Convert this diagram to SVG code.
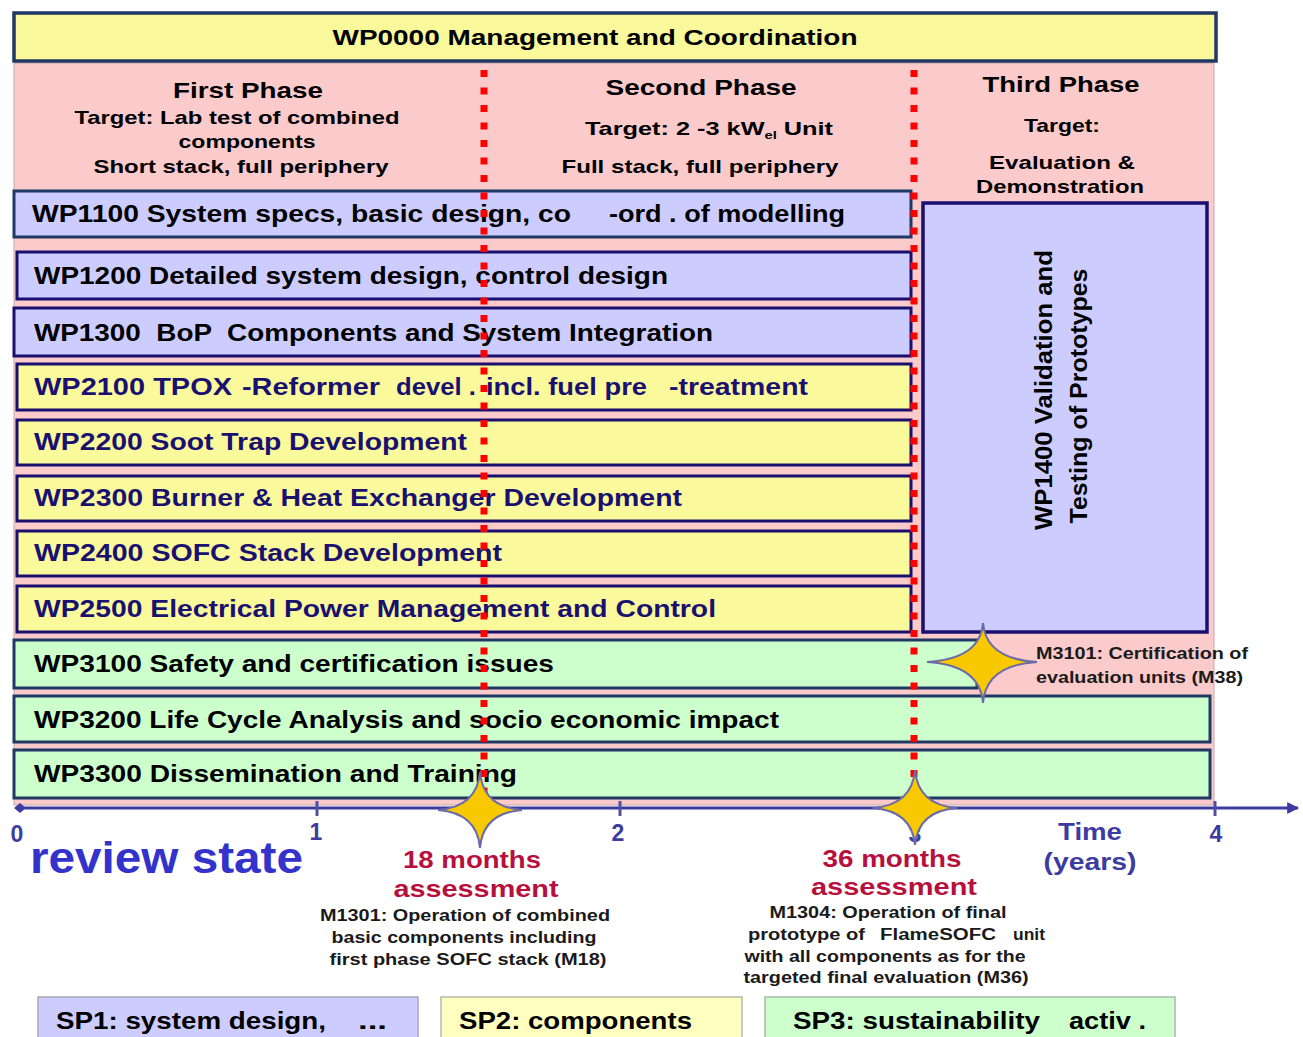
<svg xmlns="http://www.w3.org/2000/svg" width="1303" height="1037" viewBox="0 0 1303 1037">
<style>
text{font-family:"Liberation Sans",Arial,sans-serif;font-weight:bold}
.row{font-size:24px;fill:#000}
.row2{font-size:24px;fill:#1a1070}
.hd{font-size:22px;fill:#000}
.sm{font-size:19px;fill:#000}
.ms{font-size:16px;fill:#1a1a1a}
.red{font-size:24px;fill:#b8103c}
.ax{font-size:23px;fill:#3c3ca0}
.lg{font-size:23px;fill:#000}
.bx1{fill:#ccccff;stroke:#1f3864;stroke-width:3}
.bxb{fill:#ccccff;stroke:#1a0f6e;stroke-width:3}
.bxy{fill:#fafa9c;stroke:#1a0f6e;stroke-width:3}
.bxg{fill:#ccffcc;stroke:#1f3864;stroke-width:3}
.dot{stroke:#ff0000;stroke-width:7;stroke-dasharray:7 10.5;fill:none}
.star{fill:#f8c800;stroke:#6a6aa8;stroke-width:2}
.tick{stroke:#5050a0;stroke-width:3}
</style>
<defs>
<marker id="arr" viewBox="0 0 10 10" refX="9" refY="5" markerWidth="4" markerHeight="4" orient="auto" markerUnits="strokeWidth">
<path d="M0,0 L10,5 L0,10 z" fill="#3c3ca0"/>
</marker>
</defs>
<rect width="1303" height="1037" fill="#ffffff"/>

<g id="phases">
<rect x="14" y="63" width="1200" height="742" fill="#fbcaca" stroke="#c8a8a8" stroke-width="1"/>
<text class="hd" x="248" y="98" text-anchor="middle" textLength="150" lengthAdjust="spacingAndGlyphs">First Phase</text>
<text class="sm" x="237" y="124" text-anchor="middle" textLength="325" lengthAdjust="spacingAndGlyphs">Target: Lab test of combined</text>
<text class="sm" x="247" y="148" text-anchor="middle" textLength="137" lengthAdjust="spacingAndGlyphs">components</text>
<text class="sm" x="241" y="173" text-anchor="middle" textLength="295" lengthAdjust="spacingAndGlyphs">Short stack, full periphery</text>
<text class="hd" x="701" y="95" text-anchor="middle" textLength="191" lengthAdjust="spacingAndGlyphs">Second Phase</text>
<text class="sm" x="585" y="135" textLength="248" lengthAdjust="spacingAndGlyphs">Target: 2 -3 kW<tspan font-size="11" dy="4">el</tspan><tspan dy="-4"> Unit</tspan></text>
<text class="sm" x="700" y="173" text-anchor="middle" textLength="277" lengthAdjust="spacingAndGlyphs">Full stack, full periphery</text>
<text class="hd" x="1061" y="92" text-anchor="middle" textLength="157" lengthAdjust="spacingAndGlyphs">Third Phase</text>
<text class="sm" x="1062" y="132" text-anchor="middle" textLength="76" lengthAdjust="spacingAndGlyphs">Target:</text>
<text class="sm" x="1062" y="169" text-anchor="middle" textLength="146" lengthAdjust="spacingAndGlyphs">Evaluation &amp;</text>
<text class="sm" x="1060" y="193" text-anchor="middle" textLength="168" lengthAdjust="spacingAndGlyphs">Demonstration</text>
</g>

<g id="WP0000">
<rect x="14" y="13" width="1202" height="48" fill="#f9f99b" stroke="#1f3864" stroke-width="3.5"/>
<text class="hd" x="595" y="45" text-anchor="middle" textLength="525" lengthAdjust="spacingAndGlyphs">WP0000 Management and Coordination</text>
</g>

<g id="WP1100">
<rect class="bx1" x="14" y="191" width="897" height="46"/>
<text class="row" x="32" y="222" textLength="539" lengthAdjust="spacingAndGlyphs">WP1100 System specs, basic design, co</text>
<text class="row" x="609" y="222" textLength="236" lengthAdjust="spacingAndGlyphs">-ord . of modelling</text>
</g>
<g id="WP1200">
<rect class="bxb" x="17" y="252" width="894" height="47"/>
<text class="row" x="34" y="284" textLength="634" lengthAdjust="spacingAndGlyphs">WP1200 Detailed system design, control design</text>
</g>
<g id="WP1300">
<rect class="bxb" x="14" y="308" width="897" height="48"/>
<text class="row" x="34" y="341" textLength="679" lengthAdjust="spacingAndGlyphs" xml:space="preserve">WP1300  BoP  Components and System Integration</text>
</g>
<g id="WP2100">
<rect class="bxy" x="17" y="364" width="894" height="46"/>
<text class="row2" x="34" y="395" textLength="198" lengthAdjust="spacingAndGlyphs">WP2100 TPOX</text>
<text class="row2" x="242" y="395" textLength="138" lengthAdjust="spacingAndGlyphs">-Reformer</text>
<text class="row2" x="396" y="395" textLength="80" lengthAdjust="spacingAndGlyphs">devel .</text>
<text class="row2" x="486" y="395" textLength="161" lengthAdjust="spacingAndGlyphs">incl. fuel pre</text>
<text class="row2" x="669" y="395" textLength="139" lengthAdjust="spacingAndGlyphs">-treatment</text>
</g>
<g id="WP2200">
<rect class="bxy" x="17" y="420" width="894" height="45"/>
<text class="row2" x="34" y="450" textLength="433" lengthAdjust="spacingAndGlyphs">WP2200 Soot Trap Development</text>
</g>
<g id="WP2300">
<rect class="bxy" x="17" y="476" width="894" height="45"/>
<text class="row2" x="34" y="506" textLength="648" lengthAdjust="spacingAndGlyphs">WP2300 Burner &amp; Heat Exchanger Development</text>
</g>
<g id="WP2400">
<rect class="bxy" x="17" y="531" width="894" height="45"/>
<text class="row2" x="34" y="561" textLength="468" lengthAdjust="spacingAndGlyphs">WP2400 SOFC Stack Development</text>
</g>
<g id="WP2500">
<rect class="bxy" x="17" y="586" width="894" height="46"/>
<text class="row2" x="34" y="617" textLength="682" lengthAdjust="spacingAndGlyphs">WP2500 Electrical Power Management and Control</text>
</g>
<g id="WP3100">
<rect class="bxg" x="14" y="640" width="963" height="48"/>
<text class="row" x="34" y="672" textLength="520" lengthAdjust="spacingAndGlyphs">WP3100 Safety and certification issues</text>
</g>
<g id="WP3200">
<rect class="bxg" x="14" y="696" width="1196" height="46"/>
<text class="row" x="34" y="728" textLength="745" lengthAdjust="spacingAndGlyphs">WP3200 Life Cycle Analysis and socio economic impact</text>
</g>
<g id="WP3300">
<rect class="bxg" x="14" y="750" width="1196" height="48"/>
<text class="row" x="34" y="782" textLength="483" lengthAdjust="spacingAndGlyphs">WP3300 Dissemination and Training</text>
</g>
<g id="WP1400">
<rect x="923" y="203" width="284" height="429" fill="#ccccff" stroke="#1a0f6e" stroke-width="3.5"/>
<text class="row" transform="translate(1052,390) rotate(-90)" text-anchor="middle" textLength="280" lengthAdjust="spacingAndGlyphs">WP1400 Validation and</text>
<text class="row" transform="translate(1087,396) rotate(-90)" text-anchor="middle" textLength="255" lengthAdjust="spacingAndGlyphs">Testing of Prototypes</text>
</g>

<g id="connectors">
<line class="dot" x1="484" y1="70" x2="484" y2="800"/>
<line class="dot" x1="914" y1="70" x2="914" y2="800"/>
<line x1="20" y1="808" x2="1298" y2="808" stroke="#3c3ca0" stroke-width="3" marker-end="url(#arr)"/>
<path d="M14,808 L20,803 L26,808 L20,813 Z" fill="#3c3ca0"/>
<line class="tick" x1="317" y1="801" x2="317" y2="816"/>
<line class="tick" x1="620" y1="801" x2="620" y2="816"/>
<line class="tick" x1="915" y1="801" x2="915" y2="816"/>
<line class="tick" x1="1215" y1="801" x2="1215" y2="816"/>
</g>

<g id="axis-labels">
<text class="ax" x="17" y="842" text-anchor="middle">0</text>
<text class="ax" x="316" y="840" text-anchor="middle">1</text>
<text class="ax" x="618" y="841" text-anchor="middle">2</text>
<text class="ax" x="915" y="842" text-anchor="middle">3</text>
<text class="ax" x="1216" y="842" text-anchor="middle">4</text>
<text class="ax" x="1090" y="840" text-anchor="middle" textLength="64" lengthAdjust="spacingAndGlyphs">Time</text>
<text class="ax" x="1090" y="870" text-anchor="middle" textLength="93" lengthAdjust="spacingAndGlyphs">(years)</text>
<text x="30" y="873" font-size="44" fill="#3333cc" textLength="273" lengthAdjust="spacingAndGlyphs">review state</text>
</g>

<g id="M18">
<path class="star" d="M480,772 Q483,807 522,810 Q483,813 480,848 Q477,813 438,810 Q477,807 480,772 Z"/>
<text class="red" x="472" y="868" text-anchor="middle" textLength="138" lengthAdjust="spacingAndGlyphs">18 months</text>
<text class="red" x="476" y="897" text-anchor="middle" textLength="165" lengthAdjust="spacingAndGlyphs">assessment</text>
<text class="ms" x="465" y="921" text-anchor="middle" textLength="290" lengthAdjust="spacingAndGlyphs">M1301: Operation of combined</text>
<text class="ms" x="464" y="943" text-anchor="middle" textLength="265" lengthAdjust="spacingAndGlyphs">basic components including</text>
<text class="ms" x="468" y="965" text-anchor="middle" textLength="277" lengthAdjust="spacingAndGlyphs">first phase SOFC stack (M18)</text>
</g>

<g id="M36">
<path class="star" d="M915,770 Q918,805 957,808 Q918,811 915,845 Q912,811 873,808 Q912,805 915,770 Z"/>
<text class="red" x="892" y="867" text-anchor="middle" textLength="139" lengthAdjust="spacingAndGlyphs">36 months</text>
<text class="red" x="894" y="895" text-anchor="middle" textLength="166" lengthAdjust="spacingAndGlyphs">assessment</text>
<text class="ms" x="888" y="918" text-anchor="middle" textLength="237" lengthAdjust="spacingAndGlyphs">M1304: Operation of final</text>
<text class="ms" x="748" y="940" textLength="117" lengthAdjust="spacingAndGlyphs">prototype of</text>
<text class="ms" x="880" y="940" textLength="116" lengthAdjust="spacingAndGlyphs">FlameSOFC</text>
<text class="ms" x="1013" y="940" textLength="32" lengthAdjust="spacingAndGlyphs">unit</text>
<text class="ms" x="885" y="962" text-anchor="middle" textLength="281" lengthAdjust="spacingAndGlyphs">with all components as for the</text>
<text class="ms" x="886" y="983" text-anchor="middle" textLength="285" lengthAdjust="spacingAndGlyphs">targeted final evaluation (M36)</text>
</g>

<g id="M38">
<path class="star" d="M983,623 Q986,659 1037,662 Q986,665 983,703 Q980,665 927,662 Q980,659 983,623 Z"/>
<text class="ms" x="1036" y="659" textLength="212" lengthAdjust="spacingAndGlyphs">M3101: Certification of</text>
<text class="ms" x="1036" y="683" textLength="207" lengthAdjust="spacingAndGlyphs">evaluation units (M38)</text>
</g>

<g id="SP1">
<rect x="38" y="997" width="380" height="45" fill="#ccccff" stroke="#a8a8b8" stroke-width="1.5"/>
<text class="lg" x="56" y="1029" textLength="270" lengthAdjust="spacingAndGlyphs">SP1: system design,</text>
<text class="lg" x="358" y="1029" textLength="29" lengthAdjust="spacingAndGlyphs">...</text>
</g>
<g id="SP2">
<rect x="441" y="997" width="301" height="45" fill="#ffffc0" stroke="#b8b8a8" stroke-width="1.5"/>
<text class="lg" x="459" y="1029" textLength="233" lengthAdjust="spacingAndGlyphs">SP2: components</text>
</g>
<g id="SP3">
<rect x="765" y="997" width="410" height="45" fill="#ccffcc" stroke="#a8b8a8" stroke-width="1.5"/>
<text class="lg" x="793" y="1029" textLength="247" lengthAdjust="spacingAndGlyphs">SP3: sustainability</text>
<text class="lg" x="1069" y="1029" textLength="77" lengthAdjust="spacingAndGlyphs">activ .</text>
</g>
</svg>
